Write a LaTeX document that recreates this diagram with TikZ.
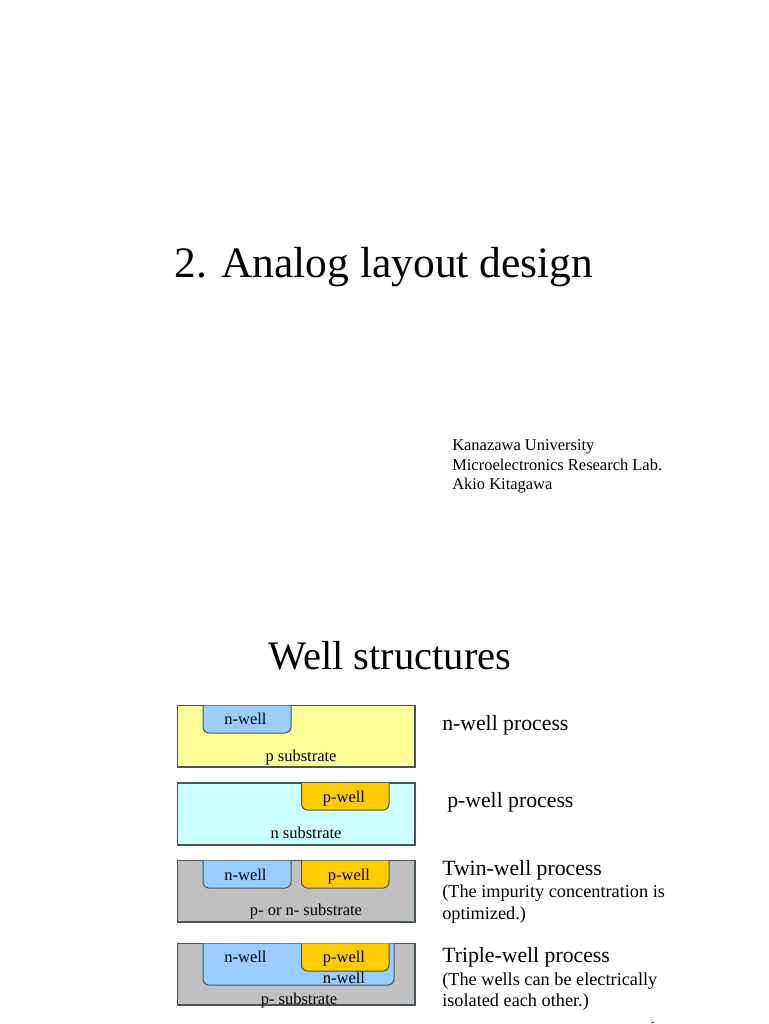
\documentclass[tikz,border=0pt]{standalone}
\usepackage{fontspec}
\setmainfont{Liberation Serif}
\definecolor{subY}{HTML}{FFFF99}
\definecolor{subC}{HTML}{CCFFFF}
\definecolor{subG}{HTML}{C0C0C0}
\definecolor{wellB}{HTML}{99CCFF}
\definecolor{wellO}{HTML}{FFCC00}
\definecolor{edgeC}{HTML}{46565C}
\tikzset{
  subbox/.style={draw=edgeC,line width=0.8pt},
  wellline/.style={draw=edgeC,line width=0.75pt},
  title/.style={anchor=base west,inner sep=0pt,font=\fontsize{32.6}{36}\selectfont},
  titleb/.style={anchor=base west,inner sep=0pt,font=\fontsize{30.4}{36}\selectfont},
  big/.style={anchor=base west,inner sep=0pt,font=\fontsize{16.3}{18}\selectfont},
  small/.style={anchor=base west,inner sep=0pt,font=\fontsize{13.7}{16}\selectfont},
  author/.style={anchor=base west,inner sep=0pt,font=\fontsize{12.35}{16}\selectfont},
  lab/.style={anchor=base,inner sep=0pt,font=\fontsize{12.35}{13}\selectfont},
}
\newlength{\pxlen}\setlength{\pxlen}{0.75pt}
\newcommand{\wellshape}[5]{% x1 x2 top bottom colour
  \path[wellline,fill=#5,rounded corners=6\pxlen] (#1,#3) -- (#1,#4) -- (#2,#4) -- (#2,#3);
}
\begin{document}
\begin{tikzpicture}[x=0.75pt,y=-0.75pt]
\useasboundingbox (0,0) rectangle (768,1024);
\fill[white] (0,0) rectangle (768,1024);
\node[title] (t1) at (174,277) {2. Analog layout design};
\node[author] (a1) at (452,450) {Kanazawa University};
\node[author] (a2) at (452,470) {Microelectronics Research Lab.};
\node[author] (a3) at (452,489) {Akio Kitagawa};
\node[titleb] (t2) at (268,669) {Well structures};
% n-well process
\path[subbox,fill=subY] (177.5,705.5) rectangle (415,767);
\wellshape{203}{291}{705.5}{733}{wellB}
\node[lab] (l1) at (245.5,724) {n-well};
\node[lab] (l2) at (301,761) {p substrate};
% p-well process
\path[subbox,fill=subC] (177.5,783) rectangle (415,845);
\wellshape{301.5}{389}{783}{810}{wellO}
\node[lab] (l3) at (344,802) {p-well};
\node[lab] (l4) at (306,838) {n substrate};
% twin
\path[subbox,fill=subG] (177.5,860.5) rectangle (415,922);
\wellshape{203}{291}{860.5}{888}{wellB}
\wellshape{301.5}{389}{860.5}{888}{wellO}
\node[lab] (l5) at (245.5,880) {n-well};
\node[lab] (l6) at (349,880) {p-well};
\node[lab] (l7) at (306,915) {p- or n- substrate};
% triple
\path[subbox,fill=subG] (177.5,943.5) rectangle (415,1005);
\wellshape{203}{394}{943.5}{985}{wellB}
\wellshape{301.5}{389}{943.5}{971}{wellO}
\node[lab] (l8) at (245.5,962) {n-well};
\node[lab] (l9) at (344,962) {p-well};
\node[lab] (l10) at (344,983) {n-well};
\node[lab] (l11) at (299,1004) {p- substrate};
% right column
\node[big] (r1) at (442,730) {n-well process};
\node[big] (r2) at (447,807) {p-well process};
\node[big] (r3) at (442,875) {Twin-well process};
\node[small] (r4) at (442,897) {(The impurity concentration is};
\node[small] (r5) at (442,919) {optimized.)};
\node[big] (r6) at (442,962) {Triple-well process};
\node[small] (r7) at (442,985) {(The wells can be electrically};
\node[small] (r8) at (442,1006) {isolated each other.)};
\draw[black!70,line width=0.7pt] (651,1023) -- (654,1022.3);
\end{tikzpicture}
\end{document}
